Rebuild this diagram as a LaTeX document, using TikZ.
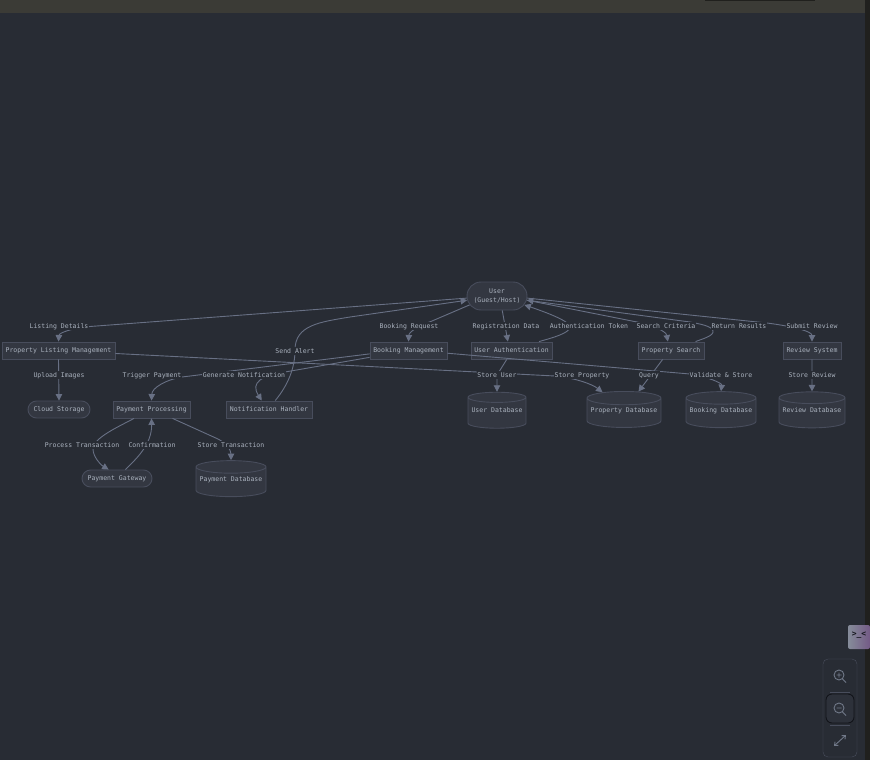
\documentclass[tikz,border=0pt]{standalone}
\usepackage{fontspec}
\setmonofont{DejaVu Sans Mono}
\usetikzlibrary{arrows.meta, shapes.geometric, shapes.misc}
\definecolor{bgDark}   {RGB}{40,44,52}
\definecolor{barTop}   {RGB}{59,59,54}
\definecolor{barDark}  {RGB}{32,32,29}
\definecolor{nodeFill} {RGB}{51,55,65}
\definecolor{nodeLine} {RGB}{72,77,92}
\definecolor{edgeLine} {RGB}{104,112,132}
\definecolor{textSoft} {RGB}{170,178,190}
\definecolor{iconGrey} {RGB}{112,120,136}
\definecolor{btnEdge}  {RGB}{18,20,26}
\tikzset{
    box/.style={draw=nodeLine, fill=nodeFill, line width=0.9pt, inner sep=0pt, minimum height=17pt, text height=5pt, text depth=0.5pt, text=textSoft, font=\ttfamily\fontsize{6.5}{9.5}\selectfont},
    pill/.style={box, rounded rectangle},
    dbase/.style={box, cylinder, shape border rotate=90, aspect=0.2, minimum height=36pt, text depth=6.5pt},
    lbl/.style={fill=bgDark, inner sep=0.8pt, text height=5pt, text depth=0.5pt, text=textSoft, font=\ttfamily\fontsize{6.5}{8}\selectfont},
    flow/.style={draw=edgeLine, line width=0.9pt, -{Triangle[length=6.5pt,width=6.5pt]}},
    icon/.style={draw=iconGrey, line width=0.9pt}
}
\begin{document}
\begin{tikzpicture}[x=1pt, y=-1pt]
    \useasboundingbox (0,0) rectangle (870,760);
    \fill[bgDark] (0,0) rectangle (870,760);
    \fill[barTop] (0,0) rectangle (870,13);
    \fill[barDark] (705,0) rectangle (815,1.2);
    \fill[black!45!barTop] (865,0) rectangle (870,760);

    % nodes
    \node[pill, minimum width=60pt, minimum height=28pt, align=center, text height=, text depth=] (user) at (497,296) {User\\(Guest/Host)};
    \node[box, minimum width=113pt] (listing) at (58.5,350.5) {Property Listing Management};
    \node[box, minimum width=77pt] (booking) at (408.5,350.5) {Booking Management};
    \node[box, minimum width=81pt] (auth) at (511.5,350.5) {User Authentication};
    \node[box, minimum width=66pt] (search) at (671,350.5) {Property Search};
    \node[box, minimum width=58pt] (review) at (812,350.5) {Review System};
    \node[pill, minimum width=62pt] (cloud) at (59,409.5) {Cloud Storage};
    \node[box, minimum width=77pt] (payment) at (151.5,409.5) {Payment Processing};
    \node[box, minimum width=86pt] (notify) at (269,409.5) {Notification Handler};
    \node[pill, minimum width=70pt] (gateway) at (117,478.5) {Payment Gateway};
    \node[dbase, minimum width=58pt] (userdb) at (497,413) {User Database};
    \node[dbase, minimum width=74pt] (propdb) at (624,413) {Property Database};
    \node[dbase, minimum width=70pt] (bookdb) at (721,413) {Booking Database};
    \node[dbase, minimum width=66pt] (revdb) at (812,413) {Review Database};
    \node[dbase, minimum width=70pt] (paydb) at (231,482) {Payment Database};

    % connectors
    \draw[flow] (user.184) -- (90,326.5) .. controls (72,328) and (59,333) .. (listing.north);
    \draw[flow] (user.198) -- (432,321) .. controls (418,326) and (409,332) .. (booking.north);
    \draw[flow] (user.290) -- (auth.112);
    \draw[flow] (auth.18) .. controls (552,338) and (570,333) .. (570,327) .. controls (570,321) and (545,312) .. (user.342);
    \draw[flow] (user.352) -- (637,322) .. controls (652,325) and (666,331) .. (search.109);
    \draw[flow] (search.20) .. controls (702,339) and (714,336) .. (713,331) .. controls (712,326) and (700,324) .. (690,322) -- (user.352);
    \draw[flow] (user.356) -- (767,323) .. controls (790,326) and (812,331) .. (review.north);
    \draw[flow] (listing.357.5) -- (555,376) .. controls (575,378) and (592,384) .. (propdb.136);
    \draw[flow] (booking.185) -- (182,377) .. controls (165,380) and (152,388) .. (payment.north);
    \draw[flow] (booking.190) -- (285,372) .. controls (262,376) and (250,382) .. (notify.129);
    \draw[flow] (booking.356) -- (690,374) .. controls (708,377) and (722,383) .. (bookdb.north);
    \draw[flow] (notify.55) .. controls (288,385) and (295,368) .. (295,350) .. controls (295,325) and (320,322) .. (350,317) -- (user.188);
    \draw[flow] (auth.242) -- (497,375) -- (userdb.north);
    \draw[flow] (search.227) -- (propdb.56);
    \draw[flow] (review.south) -- (revdb.north);
    \draw[flow] (listing.south) -- (cloud.north);
    \draw[flow] (payment.207) .. controls (118,427) and (93,438) .. (93,449) .. controls (93,457) and (101,465) .. (gateway.133);
    \draw[flow] (gateway.47) .. controls (135,460) and (152,445) .. (payment.south);
    \draw[flow] (payment.337.5) -- (218,439) .. controls (226,443) and (231,450) .. (paydb.north);

    % edge labels
    \node[lbl] (l1) at (59,326) {Listing Details};
    \node[lbl] (l2) at (409,326) {Booking Request};
    \node[lbl] (l3) at (506,326) {Registration Data};
    \node[lbl] (l4) at (589,326) {Authentication Token};
    \node[lbl] (l5) at (666,326) {Search Criteria};
    \node[lbl] (l6) at (739,326) {Return Results};
    \node[lbl] (l7) at (812,326) {Submit Review};
    \node[lbl] (l8) at (295,351) {Send Alert};
    \node[lbl] (l9) at (59,375) {Upload Images};
    \node[lbl] (l10) at (152,375) {Trigger Payment};
    \node[lbl] (l11) at (244,375) {Generate Notification};
    \node[lbl] (l12) at (497,375) {Store User};
    \node[lbl] (l13) at (582,375) {Store Property};
    \node[lbl] (l14) at (649,375) {Query};
    \node[lbl] (l15) at (721,375) {Validate \& Store};
    \node[lbl] (l16) at (812,375) {Store Review};
    \node[lbl] (l17) at (82,445) {Process Transaction};
    \node[lbl] (l18) at (152,445) {Confirmation};
    \node[lbl] (l19) at (231,445) {Store Transaction};

    % zoom panel
    \draw[nodeLine, fill=bgDark, rounded corners=5pt] (823,659) rectangle (857,757);
    \draw[nodeLine] (830,692) -- (850,692) (830,725) -- (850,725);
    \draw[btnEdge, fill=nodeFill!45!bgDark, line width=0.9pt, rounded corners=6pt] (826,694) rectangle (854,723);
    \draw[icon] (839,675) circle (5pt) (842.5,679) -- (846,682.5) (836.5,675) -- (841.5,675) (839,672.5) -- (839,677.5);
    \draw[icon] (839,708) circle (5pt) (842.5,712) -- (846,715.5) (836.5,708) -- (841.5,708);
    \draw[icon, {Straight Barb[length=3pt,width=5pt]}-{Straight Barb[length=3pt,width=5pt]}] (834,746) -- (846,735);

    % side tab
    \shade[left color=iconGrey!85!white, right color=violet!25!iconGrey, rounded corners=2pt] (848,625) rectangle (870,649);
    \node[font=\ttfamily\bfseries\fontsize{8}{8}\selectfont, text=btnEdge, inner sep=0pt] (face) at (859,635) {>\_<};
\end{tikzpicture}
\end{document}
